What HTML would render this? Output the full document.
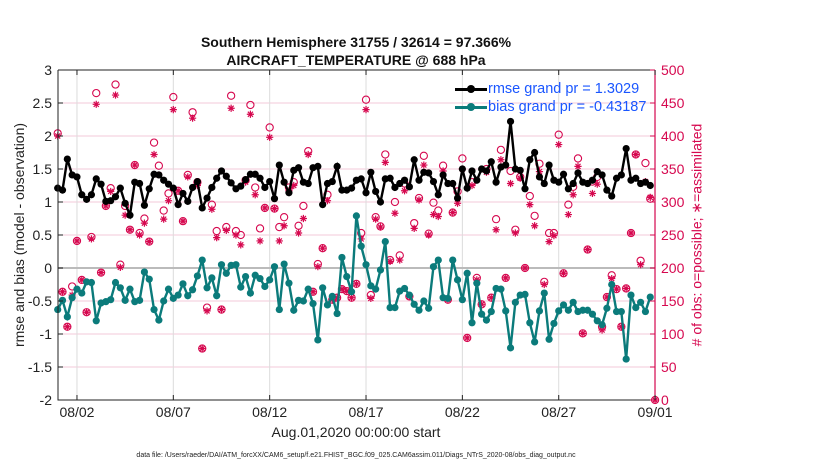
<!DOCTYPE html>
<html><head><meta charset="utf-8"><style>
body{margin:0;background:#fff;width:830px;height:470px;overflow:hidden;font-family:"Liberation Sans",Arial,sans-serif}
</style></head><body>
<svg id="chart" width="830" height="470" xmlns="http://www.w3.org/2000/svg" font-family="Liberation Sans, Arial, sans-serif"></svg>
<script>
const rmse=[1.21,1.18,1.65,1.41,1.38,1.11,1.04,1.11,1.35,1.27,1.01,1.02,1.08,1.21,0.98,0.80,1.30,1.28,0.95,1.20,1.42,1.41,1.33,1.27,1.21,0.96,1.13,1.01,1.22,1.31,0.91,1.06,1.22,1.36,1.47,1.39,1.29,1.20,1.24,1.34,1.42,
1.42,1.36,1.22,1.31,1.05,1.56,1.30,1.14,1.48,1.52,1.30,1.28,1.52,1.54,0.96,1.28,1.31,1.54,1.18,1.18,1.21,1.33,1.35,1.14,1.45,1.16,1.00,1.35,1.36,1.22,1.28,1.33,1.23,1.64,1.33,1.45,1.44,1.31,1.11,1.41,1.28,1.28,1.06,
1.50,1.21,1.47,1.33,1.50,1.47,1.61,1.30,1.53,1.56,2.22,1.50,1.48,1.20,1.64,1.75,1.38,1.28,1.56,1.33,1.30,1.42,1.20,1.28,1.44,1.30,1.28,1.33,1.46,1.41,1.18,1.09,1.36,1.41,1.81,1.33,1.36,1.28,1.30,1.25];
const bias=[-0.63,-0.49,-0.74,-0.45,-0.32,-0.38,-0.21,-0.22,-0.80,-0.53,-0.51,-0.48,-0.22,-0.30,-0.49,-0.32,-0.51,-0.49,-0.06,-0.17,-0.63,-0.79,-0.50,-0.32,-0.46,-0.41,-0.24,-0.42,-0.33,-0.12,0.12,-0.30,-0.15,-0.42,0.05,-0.08,0.04,0.05,-0.29,-0.13,-0.38,
-0.11,-0.16,-0.28,-0.18,0.02,-0.63,0.06,-0.23,-0.64,-0.49,-0.50,-0.32,-0.54,-1.09,-0.30,-0.56,-0.43,-0.69,0.16,-0.13,-0.36,0.79,0.33,0.05,-0.27,-0.32,-0.03,0.40,-0.60,-0.60,-0.35,-0.31,-0.41,-0.55,-0.64,-0.50,-0.61,0.02,0.12,-0.45,-0.46,0.12,-0.18,
-0.48,-0.08,-0.83,-0.23,-0.70,-0.79,-0.66,-0.31,-0.32,-0.65,-1.21,-0.52,-0.41,-0.40,-0.83,-1.12,-0.65,-0.38,-1.08,-0.84,-0.65,-0.56,-0.64,-0.52,-0.66,-0.64,-0.64,-0.70,-0.80,-0.86,-0.61,-0.25,-0.66,-0.66,-1.38,-0.41,-0.60,-0.52,-0.66,-0.44];
const possible=[404,164,111,172,241,182,133,247,465,193,294,321,478,205,294,258,356,253,275,240,390,355,287,313,459,317,271,341,436,330,78,140,296,256,137,262,461,256,250,333,447,
322,260,291,413,290,262,277,322,330,264,294,377,164,206,230,311,152,155,168,165,155,176,253,455,159,277,263,372,212,300,219,328,157,268,306,370,252,299,287,355,152,284,316,
366,94,330,185,145,350,155,274,379,185,347,258,338,200,309,279,358,179,253,253,402,192,296,323,366,101,228,331,338,111,156,189,168,111,169,253,372,211,359,305,0];
const assimilated=[400,164,111,159,241,182,133,244,448,193,294,316,462,201,280,258,356,250,268,240,372,341,274,302,440,317,271,338,427,325,78,135,289,246,137,257,442,250,235,330,433,
311,241,291,398,290,241,264,317,325,253,275,372,164,202,230,302,152,155,168,165,155,176,244,440,154,274,262,360,210,283,212,317,157,260,303,356,250,281,278,347,152,284,298,
350,94,325,182,145,345,155,258,364,185,328,253,336,200,296,264,346,175,240,249,387,192,281,311,354,101,228,313,327,106,156,184,168,111,169,253,372,205,331,307,0];
const leftTicks=[-2,-1.5,-1,-0.5,0,0.5,1,1.5,2,2.5,3];
const rightTicks=[0,50,100,150,200,250,300,350,400,450,500];
const xTickDays=[1,6,11,16,21,26,31];
const xTickLabels=["08/02","08/07","08/12","08/17","08/22","08/27","09/01"];
const stepDays=0.25;

const L=58,R=655,T=70,B=400, CR="#d6084f", TEAL="#0b7b7b";
const xS=d=>57.7+d*19.27;
const yL=v=>B-(v+2)*(B-T)/5;
const yR=c=>B-c*(B-T)/500;
const svg=document.getElementById('chart');
const NS="http://www.w3.org/2000/svg";
function mk(tag,attrs,parent){const e=document.createElementNS(NS,tag);for(const k in attrs)e.setAttribute(k,attrs[k]);(parent||svg).appendChild(e);return e;}
function starPath(x,y,r){let d="";for(let k=0;k<4;k++){const a=k*Math.PI/4;const dx=r*Math.cos(a),dy=r*Math.sin(a);d+=`M${x-dx},${y-dy}L${x+dx},${y+dy}`;}return d;}

rightTicks.forEach(c=>{const g=mk('line',{x1:L,x2:R,y1:yR(c),y2:yR(c),stroke:"#f3c9d9","stroke-width":1});

});
xTickDays.forEach(d=>{const g=mk('line',{x1:xS(d),x2:xS(d),y1:T,y2:B,stroke:"#dcdcdc","stroke-width":1});

});
const z=mk('line',{x1:L,x2:R,y1:yL(0),y2:yL(0),stroke:"#bbbbbb","stroke-width":2});



possible.forEach((c,i)=>{const d=i<rmse.length?i*stepDays:31;
const e=mk('circle',{cx:xS(d),cy:yR(c),r:3.6,fill:"none",stroke:CR,"stroke-width":1.1});

});
assimilated.forEach((c,i)=>{const d=i<rmse.length?i*stepDays:31;
const e=mk('path',{d:starPath(xS(d),yR(c),3.6),stroke:CR,"stroke-width":1.2,fill:"none"});

});

const rp=mk('polyline',{points:rmse.map((v,i)=>xS(i*stepDays)+","+yL(v)).join(" "),fill:"none",stroke:"#000","stroke-width":2.4});


rmse.forEach((v,i)=>{const e=mk('circle',{cx:xS(i*stepDays),cy:yL(v),r:3.6,fill:"#000"});

});
const bp=mk('polyline',{points:bias.map((v,i)=>xS(i*stepDays)+","+yL(v)).join(" "),fill:"none",stroke:TEAL,"stroke-width":2.4});


bias.forEach((v,i)=>{const e=mk('circle',{cx:xS(i*stepDays),cy:yL(v),r:3.6,fill:TEAL});

});

const ax=mk('path',{d:`M${L},${T}H${R}M${L},${T}V${B}H${R}`,fill:"none",stroke:"#222","stroke-width":1});


const ra=mk('line',{x1:R,x2:R,y1:T,y2:B,stroke:CR,"stroke-width":1.2});


leftTicks.forEach(v=>{mk('line',{x1:L,x2:L+5,y1:yL(v),y2:yL(v),stroke:"#222"});
const t=mk('text',{x:L-6,y:yL(v)+5,"text-anchor":"end","font-size":14,fill:"#222"});t.textContent=String(v);

});
rightTicks.forEach(c=>{mk('line',{x1:R-5,x2:R,y1:yR(c),y2:yR(c),stroke:CR});
const t=mk('text',{x:R+6,y:yR(c)+5,"font-size":14,fill:CR});t.textContent=String(c);

});
xTickDays.forEach((d,i)=>{mk('line',{x1:xS(d),x2:xS(d),y1:B,y2:B-5,stroke:"#222"});mk('line',{x1:xS(d),x2:xS(d),y1:T,y2:T+5,stroke:"#222"});
const t=mk('text',{x:xS(d),y:B+17,"text-anchor":"middle","font-size":14,fill:"#222"});t.textContent=xTickLabels[i];

});
</script>
<div style="position:absolute;left:0;top:33px;width:712px;text-align:center;font-weight:bold;font-size:14px;line-height:18px;color:#111">Southern Hemisphere 31755 / 32614 = 97.366%<br>AIRCRAFT_TEMPERATURE @ 688 hPa</div>
<div style="position:absolute;left:0;top:424px;width:712px;text-align:center;font-size:14px;color:#222">Aug.01,2020 00:00:00 start</div>
<div style="position:absolute;left:19px;top:235px;transform:translate(-50%,-50%) rotate(-90deg);white-space:nowrap;font-size:14px;color:#222">rmse and bias (model - observation)</div>
<div style="position:absolute;left:697px;top:235px;transform:translate(-50%,-50%) rotate(-90deg);white-space:nowrap;font-size:14px;color:#d6084f"># of obs: o=possible; &#8727;=assimilated</div>
<div style="position:absolute;left:0;top:452px;width:712px;text-align:center;font-size:7px;color:#222">data file: /Users/raeder/DAI/ATM_forcXX/CAM6_setup/f.e21.FHIST_BGC.f09_025.CAM6assim.011/Diags_NTrS_2020-08/obs_diag_output.nc</div>
<div style="position:absolute;left:455px;top:80px;font-size:14.5px;color:#1a56ff;line-height:18px">
 <div style="position:relative;padding-left:33px"><span style="position:absolute;left:0;top:8px;width:32px;height:2.5px;background:#000"></span><span style="position:absolute;left:12px;top:5px;width:8px;height:8px;border-radius:50%;background:#000"></span>rmse grand pr = 1.3029</div>
 <div style="position:relative;padding-left:33px"><span style="position:absolute;left:0;top:8px;width:32px;height:2.5px;background:#0b7b7b"></span><span style="position:absolute;left:12px;top:5px;width:8px;height:8px;border-radius:50%;background:#0b7b7b"></span>bias grand pr = -0.43187</div>
</div>
</body></html>
